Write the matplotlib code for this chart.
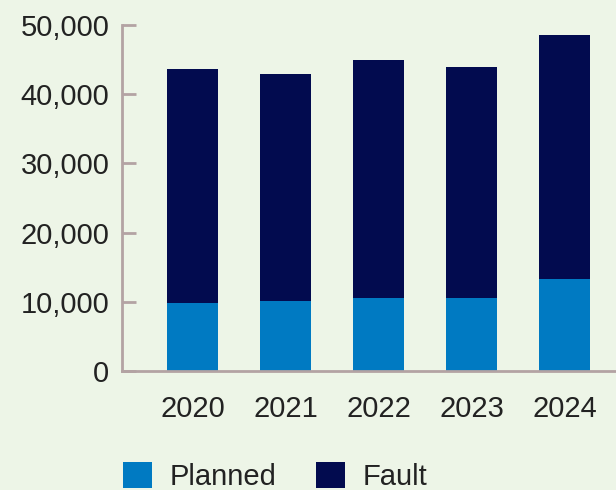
import matplotlib
matplotlib.use("Agg")
import matplotlib.pyplot as plt
from matplotlib.patches import Patch
from matplotlib.ticker import FuncFormatter

years = ["2020", "2021", "2022", "2023", "2024"]
planned = [9800, 10100, 10500, 10500, 13300]
fault = [33800, 32800, 34500, 33500, 35200]

bg = "#EDF5E7"
c_planned = "#007AC2"
c_fault = "#020B4F"
spine_c = "#B3A3A3"
txt = "#222222"

plt.rcParams["font.family"] = ["Liberation Sans", "DejaVu Sans"]
FS = 21

fig = plt.figure(figsize=(6.16, 4.90), dpi=100, facecolor=bg)
ax = fig.add_axes([122/616, 1 - 371/490, 1 - 122/616, (371 - 25)/490])
ax.set_facecolor(bg)

x = list(range(len(years)))
w = 0.55
ax.bar(x, planned, width=w, color=c_planned, label="Planned", zorder=2)
ax.bar(x, fault, width=w, bottom=planned, color=c_fault, label="Fault", zorder=2)

ax.set_xlim(-0.758, 4.554)
ax.set_ylim(0, 50000)
ax.set_yticks([0, 10000, 20000, 30000, 40000, 50000])
ax.yaxis.set_major_formatter(FuncFormatter(lambda v, p: f"{int(v):,}"))
ax.set_xticks(x)
ax.set_xticklabels(years)

for s in ["top", "right"]:
    ax.spines[s].set_visible(False)
for s in ["left", "bottom"]:
    ax.spines[s].set_color(spine_c)
    ax.spines[s].set_linewidth(2)

ax.tick_params(axis="y", direction="in", length=10, width=2, color=spine_c,
               labelsize=FS, labelcolor=txt, pad=9)
ax.tick_params(axis="x", length=0, labelsize=FS, labelcolor=txt, pad=17)

handles = [Patch(facecolor=c_planned, label="Planned"),
           Patch(facecolor=c_fault, label="Fault")]
fig.legend(handles=handles, loc="upper left", bbox_to_anchor=(97/616, 1 - 436/490),
           ncol=2, frameon=False, fontsize=FS, handlelength=1.0, handleheight=1.0,
           handletextpad=0.6, columnspacing=1.34, labelcolor=txt)

fig.savefig("out.png", dpi=100, facecolor=bg)
